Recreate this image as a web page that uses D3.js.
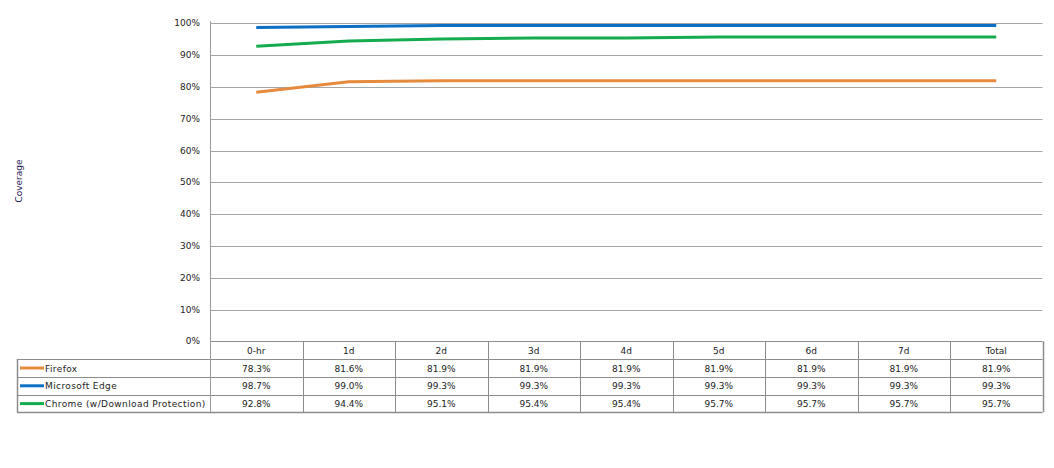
<!DOCTYPE html>
<html><head><meta charset="utf-8">
<script src="https://cdn.jsdelivr.net/npm/d3@7"></script>
<style>body{margin:0;background:#fff}svg text{font-family:"DejaVu Sans",sans-serif;}</style>
</head><body><svg id="c" width="1054" height="468"></svg>
<script>
const categories = ["0-hr","1d","2d","3d","4d","5d","6d","7d","Total"];
const seriesNames = ["Firefox","Microsoft Edge","Chrome (w/Download Protection)"];
const firefox = [78.3,81.6,81.9,81.9,81.9,81.9,81.9,81.9,81.9];
const edge = [98.7,99.0,99.3,99.3,99.3,99.3,99.3,99.3,99.3];
const chrome = [92.8,94.4,95.1,95.4,95.4,95.7,95.7,95.7,95.7];
const yTicks = [0,10,20,30,40,50,60,70,80,90,100];
const colors = ["#E68A3E","#0C6FC4","#14AC4F"];
const series = [firefox, edge, chrome];

const svg = d3.select("#c");
const L = 210, R = 1042.5, T = 23.3, B = 341.3;
const x = d3.scaleBand().domain(categories).range([L, R]);
const y = d3.scaleLinear().domain([0,100]).range([B, T]);

// gridlines
svg.append("g").selectAll("line").data(yTicks.filter(d=>d>0)).join("line")
  .attr("x1", L).attr("x2", R).attr("y1", d=>Math.round(y(d))+0.5).attr("y2", d=>Math.round(y(d))+0.5)
  .attr("stroke","#A6A6A6").attr("stroke-width",1);

// y tick labels
svg.append("g").selectAll("text").data(yTicks).join("text")
  .attr("x", 200).attr("y", d=>y(d)+3).attr("text-anchor","end")
  .attr("font-size", 9).attr("fill","#222").text(d=>d+"%");

// axis title
svg.append("text").attr("transform","translate(22,181) rotate(-90)")
  .attr("text-anchor","middle").attr("font-size",9).attr("fill","#1F1A5A").text("Coverage");

// table
const rowH = 17.8;
const rows = [B, B+rowH, B+2*rowH, B+3*rowH, B+4*rowH - 0.4];
const tg = svg.append("g");
const lineColor = "#8C8C8C";
tg.append("line").attr("x1", L).attr("x2", R).attr("y1", Math.round(rows[0])+0.5).attr("y2", Math.round(rows[0])+0.5).attr("stroke",lineColor);
rows.slice(1).forEach((ry,i)=>{
  tg.append("line").attr("x1",17).attr("x2",R).attr("y1",Math.round(ry)+0.5).attr("y2",Math.round(ry)+0.5)
    .attr("stroke",lineColor).attr("stroke-width", i===3?1.5:1);
});
const vx = categories.map(c=>x(c)).concat([R]);
vx.forEach((vv,i)=>{
  tg.append("line").attr("x1",Math.round(vv)+0.5).attr("x2",Math.round(vv)+0.5)
    .attr("y1", i===0 ? T-2 : B).attr("y2", rows[4])
    .attr("stroke", i===0 ? "#9A9A9A" : lineColor).attr("stroke-width", (i===vx.length-1)?1.5:1);
});
tg.append("line").attr("x1",17.5).attr("x2",17.5).attr("y1",Math.round(rows[1])).attr("y2",rows[4]).attr("stroke",lineColor).attr("stroke-width",1.5);

// header
tg.selectAll("text.h").data(categories).join("text").attr("class","h")
  .attr("x", d=>x(d)+x.bandwidth()/2).attr("y", rows[0]+rowH/2+3.5)
  .attr("text-anchor","middle").attr("font-size",9).attr("fill","#222").text(d=>d);

// rows
series.forEach((s,i)=>{
  const cy = rows[i+1]+rowH/2;
  tg.append("line").attr("x1",20).attr("x2",44).attr("y1",cy).attr("y2",cy)
    .attr("stroke",colors[i]).attr("stroke-width",3);
  tg.append("text").attr("x",45).attr("y",cy+3.5).attr("font-size",9).attr("letter-spacing",0.4)
    .attr("fill","#222").text(seriesNames[i]);
  tg.selectAll("text.v"+i).data(s).join("text").attr("class","v"+i)
    .attr("x",(d,j)=>x(categories[j])+x.bandwidth()/2).attr("y",cy+3.5)
    .attr("text-anchor","middle").attr("font-size",9).attr("fill","#222").text(d=>d.toFixed(1)+"%");
});

// lines
const line = d3.line().x((d,j)=>x(categories[j])+x.bandwidth()/2).y(d=>y(d));
series.forEach((s,i)=>{
  svg.append("path").datum(s).attr("d",line).attr("fill","none")
    .attr("stroke",colors[i]).attr("stroke-width",3).attr("stroke-linejoin","round");
});
</script></body></html>
